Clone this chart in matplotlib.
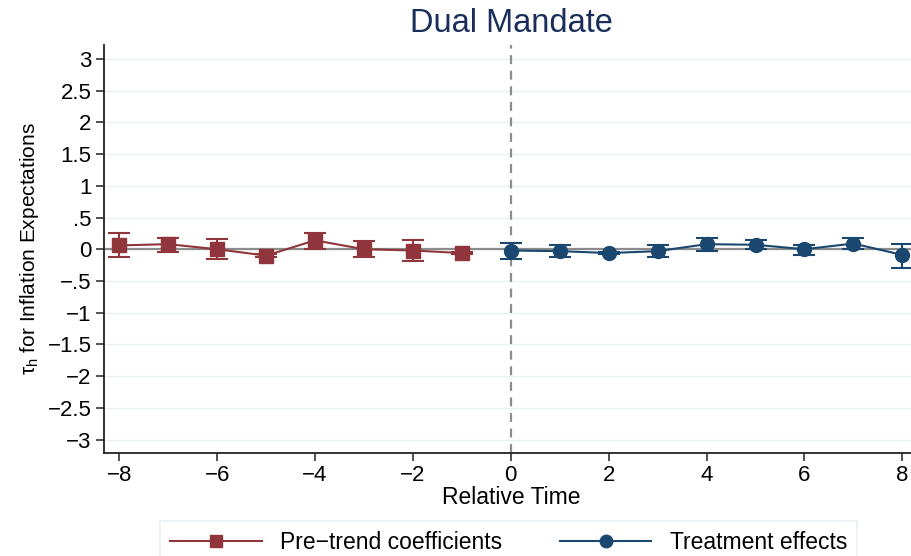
import matplotlib
matplotlib.use("Agg")
import matplotlib.pyplot as plt
import numpy as np

plt.rcParams['font.family'] = ['Liberation Sans', 'DejaVu Sans']

# pre-trend coefficients (relative time -8 .. -1)
pre_t = [-8, -7, -6, -5, -4, -3, -2, -1]
pre_b = [0.06, 0.08, 0.00, -0.10, 0.14, 0.00, -0.02, -0.06]
pre_lo = [-0.12, -0.04, -0.16, -0.13, 0.01, -0.13, -0.18, -0.08]
pre_hi = [0.26, 0.18, 0.16, -0.07, 0.26, 0.13, 0.14, -0.04]

# treatment effects (relative time 0 .. 8)
post_t = [0, 1, 2, 3, 4, 5, 6, 7, 8]
post_b = [-0.02, -0.03, -0.06, -0.03, 0.08, 0.07, 0.00, 0.09, -0.09]
post_lo = [-0.15, -0.12, -0.08, -0.12, -0.03, 0.00, -0.09, 0.01, -0.29]
post_hi = [0.10, 0.07, -0.04, 0.06, 0.18, 0.14, 0.07, 0.18, 0.08]

yticks = [3, 2.5, 2, 1.5, 1, 0.5, 0, -0.5, -1, -1.5, -2, -2.5, -3]
ylabels = ['3', '2.5', '2', '1.5', '1', '.5', '0', '\u2212.5', '\u22121', '\u22121.5',
           '\u22122', '\u22122.5', '\u22123']
xticks = [-8, -6, -4, -2, 0, 2, 4, 6, 8]

red = '#90353b'
navy = '#1a476f'

fig = plt.figure(figsize=(9.11, 5.56), dpi=100)
ax = fig.add_axes([0.1142, 0.1853, 0.893, 0.734])

for y in yticks:
    ax.axhline(y, color='#eaf0f4', lw=1.0, zorder=0)
ax.axhline(0, color='#8c8c8c', lw=1.6, zorder=1)
ax.axvline(0, color='#8c8c8c', lw=1.6, ls=(0, (4, 3)), zorder=1)

pre_b = np.array(pre_b)
post_b = np.array(post_b)
ax.errorbar(pre_t, pre_b, yerr=[pre_b - np.array(pre_lo), np.array(pre_hi) - pre_b],
            color=red, marker='s', ms=9.5, lw=1.5, elinewidth=1.5, capsize=8,
            capthick=1.5, zorder=3)
ax.errorbar(post_t, post_b, yerr=[post_b - np.array(post_lo), np.array(post_hi) - post_b],
            color=navy, marker='o', ms=10, lw=1.5, elinewidth=1.5, capsize=8,
            capthick=1.5, zorder=3)

ax.set_xlim(-8.31, 8.31)
ax.set_ylim(-3.21, 3.22)
ax.set_yticks(yticks)
ax.set_yticklabels(ylabels)
ax.set_xticks(xticks)
ax.set_xticklabels([str(v).replace('-', '\u2212') for v in xticks])
ax.tick_params(labelsize=16, length=6, width=1.2, color='#333333', pad=3)
ax.spines['top'].set_visible(False)
ax.spines['right'].set_visible(False)
for s in ['left', 'bottom']:
    ax.spines[s].set_linewidth(1.3)
    ax.spines[s].set_color('#222222')

ax.set_xlabel('Relative Time', fontsize=16.5, labelpad=0)
ax.set_ylabel(r'τ$_\mathregular{h}$ for Inflation Expectations', fontsize=15, labelpad=5)
fig.text(0.561, 0.958, 'Dual Mandate', ha='center', va='center', fontsize=23.5, color='#1a2e5a')

h1, = ax.plot([], [], color=red, marker='s', ms=9, lw=1.5)
h2, = ax.plot([], [], color=navy, marker='o', ms=9, lw=1.5)
leg = fig.legend([h1, h2], ['Pre\u2212trend coefficients', 'Treatment effects'],
                 loc='upper left', bbox_to_anchor=(0.1756, 0.063), borderaxespad=0,
                 ncol=2, fontsize=16.5, frameon=True, fancybox=False, handlelength=4.0,
                 handletextpad=0.8, columnspacing=2.5, borderpad=0.45)
leg.get_frame().set_edgecolor('#e4ecf0')
leg.get_frame().set_linewidth(1.2)

fig.savefig('out.png', dpi=100)
